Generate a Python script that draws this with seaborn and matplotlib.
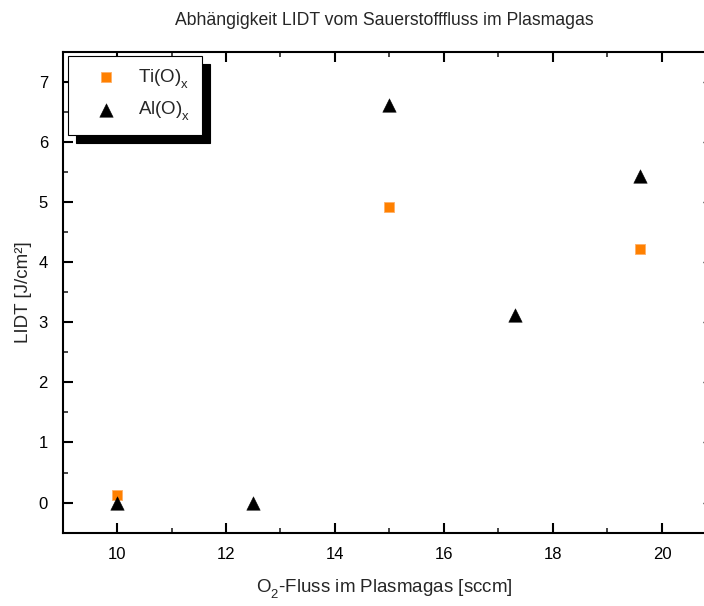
import numpy as np
import pandas as pd
import matplotlib
matplotlib.use("Agg")
import matplotlib.pyplot as plt
import seaborn as sns
from matplotlib.ticker import MultipleLocator
from matplotlib import _mathtext

# O2 flow (sccm) and measured LIDT (J/cm²) for the two coating materials
ti_flow = [10.0, 15.0, 19.6]
ti_lidt = [0.12, 4.92, 4.22]
al_flow = [10.0, 12.5, 15.0, 17.3, 19.6]
al_lidt = [0.0, 0.0, 6.62, 3.12, 5.44]

ti_label = r"Ti(O)$_\mathregular{x}$"
al_label = r"Al(O)$_\mathregular{x}$"

sns.set_style("ticks")
plt.rcParams["font.family"] = ["Liberation Sans", "DejaVu Sans"]
plt.rcParams["mathtext.fontset"] = "custom"
plt.rcParams["mathtext.rm"] = "Liberation Sans"
# drop subscripts a little further below the baseline
_mathtext.FontConstantsBase.sub1 = 0.6
_mathtext.FontConstantsBase.sub2 = 0.8

ti = pd.DataFrame({"flow": ti_flow, "lidt": ti_lidt})
al = pd.DataFrame({"flow": al_flow, "lidt": al_lidt})

fig = plt.figure(figsize=(7.04, 6.06), dpi=100)
ax = fig.add_axes([0.0888, 0.121, 0.9134, 0.7937])

sns.scatterplot(data=ti, x="flow", y="lidt", ax=ax, marker="s", s=58,
                color="#FF8000", edgecolor="#FFB066", linewidth=0.6,
                label=ti_label, zorder=3)
sns.scatterplot(data=al, x="flow", y="lidt", ax=ax, marker="^", s=95,
                color="black", edgecolor="black", linewidth=0.3,
                label=al_label, zorder=3)

ax.set_xlim(9, 20.8)
ax.set_ylim(-0.5, 7.5)
ax.xaxis.set_major_locator(MultipleLocator(2))
ax.xaxis.set_minor_locator(MultipleLocator(1))
ax.yaxis.set_major_locator(MultipleLocator(1))
ax.yaxis.set_minor_locator(MultipleLocator(0.5))

for side in ["left", "bottom", "top"]:
    ax.spines[side].set_visible(True)
    ax.spines[side].set_linewidth(1.5)
    ax.spines[side].set_color("black")
ax.spines["right"].set_visible(False)

ax.tick_params(which="major", direction="in", length=7, width=1.5,
               top=True, right=False, labelsize=12, pad=10.5, colors="black")
ax.tick_params(which="minor", direction="in", length=3.5, width=1.2,
               top=True, right=False)
# right-hand ticks sit on the frame edge; only their tips reach the canvas
ax.tick_params(axis="y", which="major", right=True)
for t in ax.yaxis.get_major_ticks():
    t.tick2line.set_markersize(2.5)
    t.tick2line.set_color("#999999")
    t.tick2line.set_markeredgewidth(1.0)

ax.set_xlabel("O$_\\mathregular{2}$-Fluss im Plasmagas [sccm]", fontsize=13.5, labelpad=11)
ax.set_ylabel("LIDT [J/cm²]", fontsize=13.5, labelpad=5)
ax.set_title("Abhängigkeit LIDT vom Sauerstofffluss im Plasmagas",
             fontsize=12.7, pad=19)

leg = ax.legend(loc="upper left", bbox_to_anchor=(0.0086, 0.991),
                borderaxespad=0, fancybox=False, frameon=True,
                edgecolor="black", framealpha=1, fontsize=13.5,
                handletextpad=0.35, borderpad=0.6, labelspacing=0.48,
                handlelength=2.8,
                shadow={"ox": 6, "oy": -6, "color": "black", "alpha": 1})
leg.get_frame().set_linewidth(0.8)

fig.savefig("out.png", dpi=100)
